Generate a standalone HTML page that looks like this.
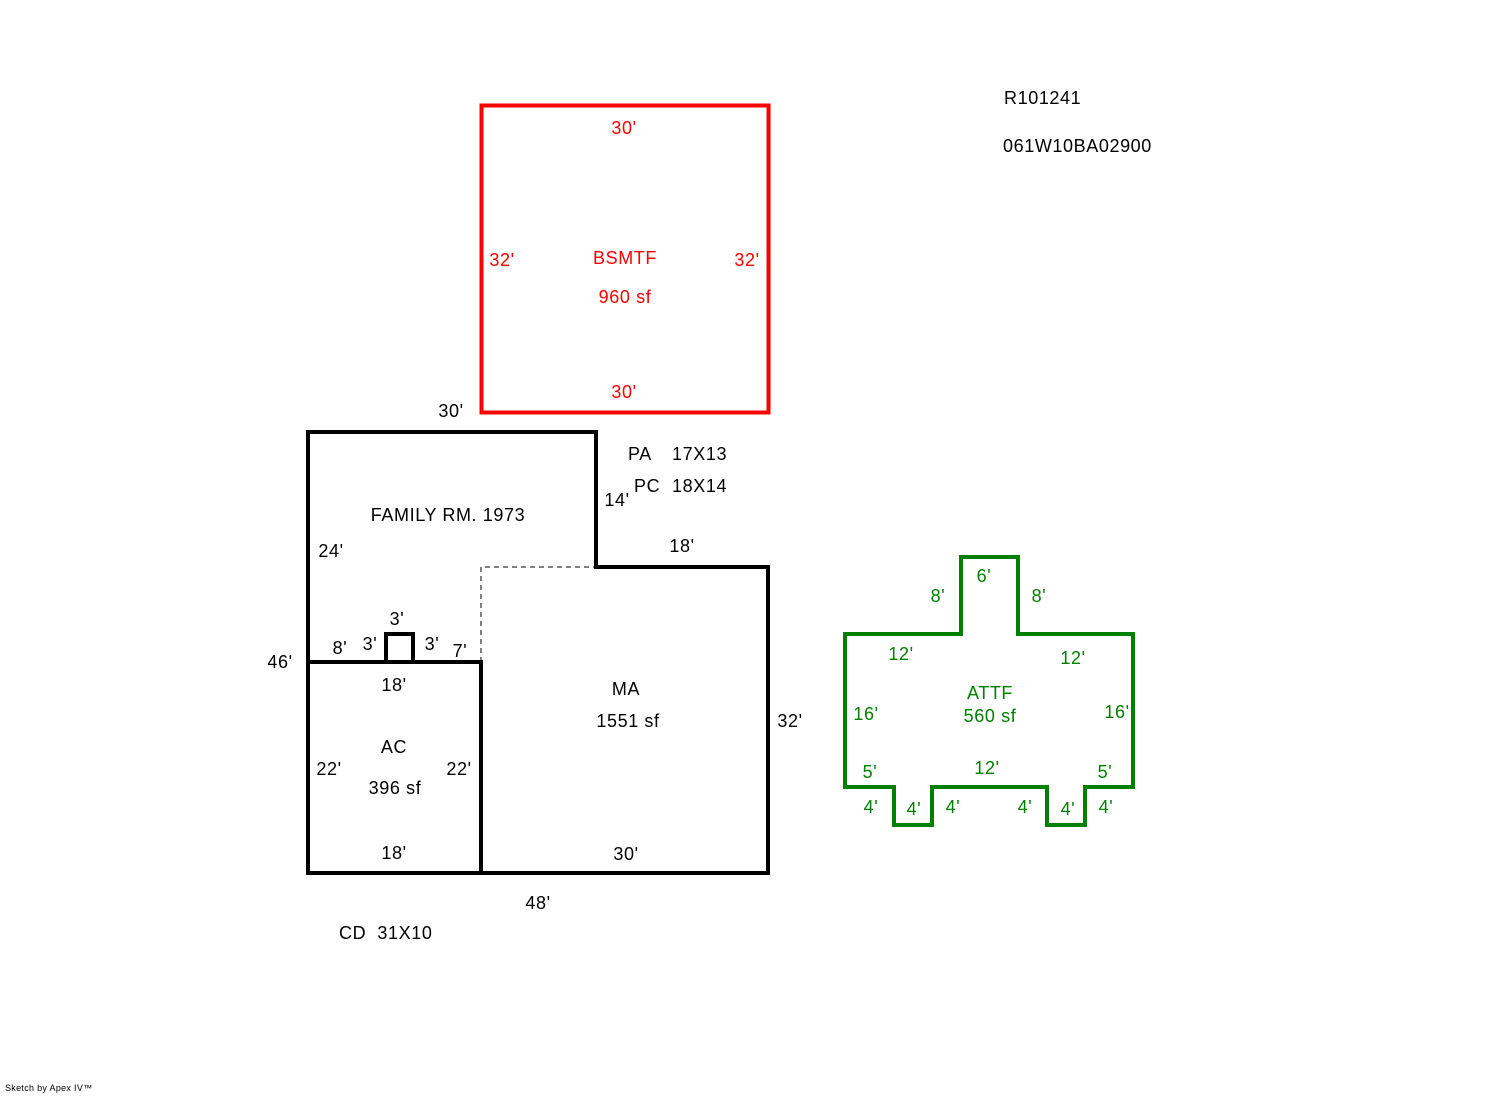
<!DOCTYPE html>
<html><head><style>
body{margin:0;background:#fff;width:1492px;height:1094px;overflow:hidden}
svg text{font-family:"Liberation Sans",Arial,sans-serif;font-size:18px;letter-spacing:0.6px;white-space:pre}
</style></head><body>
<svg width="1492" height="1094" xmlns="http://www.w3.org/2000/svg">
<rect x="481.5" y="105.5" width="287" height="307" fill="none" stroke="#ff0000" stroke-width="4"/>
<g fill="#ff0000" text-anchor="middle">
<text x="624" y="134">30'</text><text x="624" y="398">30'</text>
<text x="502" y="266">32'</text><text x="747" y="266">32'</text>
<text x="625" y="264">BSMTF</text><text x="625" y="303">960 sf</text>
</g>
<g fill="none" stroke="#000" stroke-width="4">
<path d="M308 432 H596 V567 H768 V873 H308 Z"/>
<path d="M308 662 H481 V873"/>
<path d="M386 662 V634 H413 V662"/>
</g>
<path d="M481 662 V567 H596" fill="none" stroke="#000" stroke-width="1" stroke-dasharray="5,4"/>
<g fill="#000" text-anchor="middle">
<text x="451" y="417">30'</text>
<text x="448" y="521">FAMILY RM. 1973</text>
<text x="331" y="557">24'</text>
<text x="617" y="506">14'</text>
<text x="682" y="552">18'</text>
<text x="397" y="625">3'</text>
<text x="340" y="654">8'</text>
<text x="370" y="650">3'</text>
<text x="432" y="650">3'</text>
<text x="460" y="657">7'</text>
<text x="280" y="668">46'</text>
<text x="394" y="691">18'</text>
<text x="394" y="753">AC</text>
<text x="329" y="775">22'</text>
<text x="459" y="775">22'</text>
<text x="395" y="794">396 sf</text>
<text x="394" y="859">18'</text>
<text x="626" y="695">MA</text>
<text x="628" y="727">1551 sf</text>
<text x="790" y="727">32'</text>
<text x="626" y="860">30'</text>
<text x="538" y="909">48'</text>
</g>
<g fill="#000">
<text x="628" y="460">PA</text><text x="672" y="460">17X13</text>
<text x="634" y="492">PC</text><text x="672" y="492">18X14</text>
<text x="339" y="939" xml:space="preserve">CD  31X10</text>
<text x="1004" y="104">R101241</text>
<text x="1003" y="152">061W10BA02900</text>
<text x="5" y="1091" style="font-size:9px;letter-spacing:0.3px">Sketch by Apex IV™</text>
</g>
<path d="M845 634 H961 V557 H1018 V634 H1133 V787 H1085 V825 H1047 V787 H932 V825 H894 V787 H845 Z" fill="none" stroke="#008000" stroke-width="4"/>
<g fill="#008000" text-anchor="middle">
<text x="984" y="582">6'</text>
<text x="938" y="602">8'</text><text x="1039" y="602">8'</text>
<text x="901" y="660">12'</text><text x="1073" y="664">12'</text>
<text x="990" y="699">ATTF</text><text x="990" y="722">560 sf</text>
<text x="866" y="720">16'</text><text x="1117" y="718">16'</text>
<text x="870" y="778">5'</text><text x="987" y="774">12'</text><text x="1105" y="778">5'</text>
<text x="871" y="813">4'</text><text x="914" y="815">4'</text><text x="953" y="813">4'</text>
<text x="1025" y="813">4'</text><text x="1068" y="815">4'</text><text x="1106" y="813">4'</text>
</g>
</svg>
</body></html>
